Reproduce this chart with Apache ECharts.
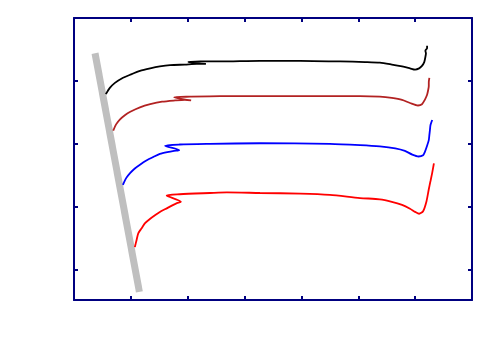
<!DOCTYPE html>
<html>
<head>
<meta charset="utf-8">
<script src="https://cdn.jsdelivr.net/npm/echarts@6/dist/echarts.min.js"></script>
<style>
  html, body { margin: 0; padding: 0; background: #fff; }
  #chart { width: 500px; height: 350px; }
</style>
</head>
<body>
<div id="chart"></div>
<script>
// curves, top to bottom: [x, y]
const blackCurve = [
  [0.56, 2.79], [0.63, 2.89], [0.72, 2.97], [0.84, 3.04], [0.99, 3.10], [1.16, 3.16],
  [1.34, 3.20], [1.51, 3.23], [1.69, 3.25], [1.95, 3.26], [2.16, 3.27], [2.32, 3.27],
  [2.01, 3.30], [2.22, 3.31], [2.57, 3.31], [3.27, 3.32], [3.98, 3.32], [4.68, 3.31],
  [5.12, 3.30], [5.38, 3.29], [5.59, 3.26], [5.77, 3.23], [5.91, 3.20], [6.00, 3.18],
  [6.07, 3.20], [6.12, 3.24], [6.16, 3.30], [6.18, 3.38], [6.19, 3.44], [6.18, 3.48],
  [6.21, 3.52], [6.21, 3.56]
];
const brownCurve = [
  [0.69, 2.21], [0.74, 2.31], [0.81, 2.39], [0.90, 2.46], [0.99, 2.51], [1.16, 2.58],
  [1.34, 2.63], [1.55, 2.67], [1.78, 2.69], [1.95, 2.70], [2.06, 2.69], [1.76, 2.74],
  [2.04, 2.75], [2.57, 2.76], [3.27, 2.76], [4.33, 2.76], [5.03, 2.76], [5.38, 2.75],
  [5.59, 2.73], [5.77, 2.70], [5.91, 2.65], [6.05, 2.61], [6.12, 2.63], [6.17, 2.70],
  [6.21, 2.78], [6.23, 2.86], [6.24, 2.92], [6.24, 2.98], [6.25, 3.05]
];
const blueCurve = [
  [0.86, 1.35], [0.92, 1.46], [0.99, 1.54], [1.07, 1.61], [1.16, 1.67], [1.28, 1.74],
  [1.39, 1.79], [1.51, 1.84], [1.64, 1.87], [1.76, 1.89], [1.85, 1.90], [1.60, 1.97],
  [1.86, 1.99], [2.39, 2.00], [3.27, 2.01], [4.50, 2.00], [5.03, 1.98], [5.38, 1.96],
  [5.65, 1.93], [5.82, 1.89], [5.95, 1.83], [6.06, 1.80], [6.14, 1.82], [6.17, 1.87],
  [6.21, 1.97], [6.24, 2.06], [6.25, 2.14], [6.26, 2.22], [6.27, 2.30], [6.30, 2.38]
];
const redCurve = [
  [1.07, 0.36], [1.10, 0.47], [1.13, 0.58], [1.19, 0.66], [1.25, 0.74], [1.34, 0.81],
  [1.43, 0.87], [1.53, 0.93], [1.64, 0.98], [1.72, 1.02], [1.81, 1.06], [1.88, 1.08],
  [1.63, 1.18], [1.86, 1.20], [2.39, 1.22], [2.69, 1.23], [3.27, 1.22], [3.98, 1.21],
  [4.50, 1.19], [5.03, 1.14], [5.38, 1.12], [5.59, 1.08], [5.77, 1.03], [5.91, 0.97],
  [6.00, 0.92], [6.07, 0.89], [6.14, 0.93], [6.20, 1.09], [6.24, 1.28], [6.27, 1.41],
  [6.30, 1.54], [6.33, 1.69]
];
// thick grey guide line
const guideLine = [[0.37, 3.44], [1.15, -0.35]];

const yTicks = [0, 1, 2, 3];

const axisColor = '#000080';

function xAx(pos) {
  return {
    type: 'value', position: pos, min: 0, max: 7, interval: 1,
    axisLine: {onZero: false, lineStyle: {color: axisColor, width: 2}},
    axisTick: {inside: true, length: 4, lineStyle: {color: axisColor, width: 2}},
    axisLabel: {show: false},
    splitLine: {show: false}
  };
}

function yAx(pos) {
  return {
    type: 'value', position: pos, min: -0.48, max: 4,
    axisLine: {onZero: false, lineStyle: {color: axisColor, width: 2}},
    axisTick: {inside: true, length: 4, customValues: yTicks, lineStyle: {color: axisColor, width: 2}},
    axisLabel: {show: false},
    splitLine: {show: false}
  };
}

function curve(data, color, width, smooth) {
  return {
    type: 'line', data: data, showSymbol: false, silent: true, smooth: smooth,
    lineStyle: {color: color, width: width}
  };
}

const chart = echarts.init(document.getElementById('chart'));
chart.setOption({
  animation: false,
  backgroundColor: '#fff',
  grid: {left: 74, top: 18, right: 28, bottom: 50},
  xAxis: [xAx('bottom'), xAx('top')],
  yAxis: [yAx('left'), yAx('right')],
  series: [
    curve(guideLine, '#bfbfbf', 7, false),
    curve(blackCurve, '#000000', 1.8, 0.25),
    curve(brownCurve, '#b22222', 1.8, 0.25),
    curve(blueCurve, '#0000ff', 1.8, 0.25),
    curve(redCurve, '#ff0000', 1.8, 0.25)
  ]
});
</script>
</body>
</html>
